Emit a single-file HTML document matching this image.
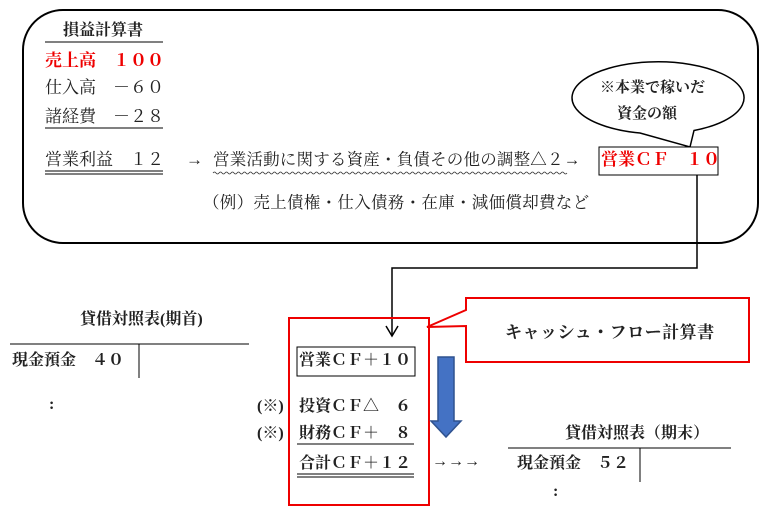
<!DOCTYPE html>
<html><head><meta charset="utf-8"><style>
body{margin:0;width:784px;height:517px;background:#fff;position:relative;overflow:hidden;font-family:"Liberation Serif","Noto Serif CJK SC","Noto Serif CJK JP",serif;font-size:16px;color:#222}
.t{position:absolute;white-space:nowrap;line-height:20px}
.b{font-weight:bold}
.r{color:#e00}
</style></head><body>
<svg width="784" height="517" style="position:absolute;left:0;top:0">
<rect x="23" y="10" width="735" height="233" rx="40" fill="none" stroke="#000" stroke-width="2"/>
<line x1="45" y1="42" x2="163" y2="42" stroke="#000"/>
<line x1="45" y1="128" x2="163" y2="128" stroke="#000"/>
<line x1="45" y1="171" x2="163" y2="171" stroke="#000"/>
<line x1="45" y1="174" x2="163" y2="174" stroke="#000"/>
<path d="M213,173 q1.5,-2 3,0 t3,0 t3,0 t3,0 t3,0 t3,0 t3,0 t3,0 t3,0 t3,0 t3,0 t3,0 t3,0 t3,0 t3,0 t3,0 t3,0 t3,0 t3,0 t3,0 t3,0 t3,0 t3,0 t3,0 t3,0 t3,0 t3,0 t3,0 t3,0 t3,0 t3,0 t3,0 t3,0 t3,0 t3,0 t3,0 t3,0 t3,0 t3,0 t3,0 t3,0 t3,0 t3,0 t3,0 t3,0 t3,0 t3,0 t3,0 t3,0 t3,0 t3,0 t3,0 t3,0 t3,0 t3,0 t3,0 t3,0 t3,0 t3,0 t3,0 t3,0 t3,0 t3,0 t3,0 t3,0 t3,0 t3,0 t3,0 t3,0 t3,0 t3,0 t3,0 t3,0 t3,0 t3,0 t3,0 t3,0 t3,0 t3,0 t3,0 t3,0 t3,0 t3,0 t3,0 t3,0 t3,0 t3,0 t3,0 t3,0 t3,0 t3,0 t3,0 t3,0 t3,0 t3,0 t3,0 t3,0 t3,0 t3,0 t3,0 t3,0 t3,0 t3,0 t3,0 t3,0 t3,0 t3,0 t3,0 t3,0 t3,0 t3,0 t3,0 t3,0 t3,0 t3,0 t3,0 t3,0 t3,0" fill="none" stroke="#333" stroke-width="0.8"/>
<path d="M640,133 A86,36 0 1 1 694,130.5 L690,147 Z" fill="#fff" stroke="#000" stroke-width="1.5"/>
<rect x="599" y="147" width="119" height="28" fill="#fff" stroke="#000"/>
<polyline points="697,175 697,268 392,268 392,336" fill="none" stroke="#000" stroke-width="1.5"/>
<polyline points="386,326 392,336 398,326" fill="none" stroke="#000" stroke-width="1.5"/>
<rect x="289" y="318" width="140" height="187" fill="none" stroke="#e00" stroke-width="2"/>
<path d="M466,298 L749,298 L749,362 L466,362 L466,326 L427,327 L466,310 Z" fill="#fff" stroke="#e00" stroke-width="2"/>
<rect x="297" y="347" width="118" height="29" fill="none" stroke="#000"/>
<path d="M438,357 L454,357 L454,421 L461,421 L446,437 L431,421 L438,421 Z" fill="#4472c4" stroke="#2f528f" stroke-width="1.5"/>
<line x1="297" y1="444" x2="414" y2="444" stroke="#000"/>
<line x1="297" y1="474" x2="414" y2="474" stroke="#000"/>
<line x1="297" y1="477" x2="414" y2="477" stroke="#000"/>
<line x1="10" y1="344" x2="249" y2="344" stroke="#000"/>
<line x1="139" y1="344" x2="139" y2="378" stroke="#000"/>
<line x1="508" y1="448" x2="731" y2="448" stroke="#000"/>
<line x1="640" y1="448" x2="640" y2="482" stroke="#000"/>
</svg>
<div class="t b" style="left:63px;top:21px">損益計算書</div>
<div class="t b r" style="left:45px;top:51px;font-size:17px">売上高　１００</div>
<div class="t" style="left:45px;top:78px;font-size:17px">仕入高　－６０</div>
<div class="t" style="left:45px;top:107px;font-size:17px">諸経費　－２８</div>
<div class="t" style="left:45px;top:150px;font-size:17px">営業利益　１２</div>
<div class="t" style="left:186px;top:150px;font-size:17px">→</div>
<div class="t" style="left:213px;top:150px;font-size:16.5px;letter-spacing:0.2px">営業活動に関する資産・負債その他の調整△２→</div>
<div class="t" style="left:203px;top:193px;font-size:16.5px;letter-spacing:0.3px">（例）売上債権・仕入債務・在庫・減価償却費など</div>
<div class="t b" style="left:600px;top:78px;font-size:15px">※本業で稼いだ</div>
<div class="t b" style="left:617px;top:104px;font-size:15px">資金の額</div>
<div class="t b r" style="left:601px;top:150px;font-size:17px">営業ＣＦ　１０</div>
<div class="t b" style="left:80px;top:310px">貸借対照表(期首)</div>
<div class="t b" style="left:12px;top:351px">現金預金　４０</div>
<div class="t b" style="left:49px;top:395px">:</div>
<div class="t b" style="left:505px;top:323px;font-size:17px;letter-spacing:0.5px">キャッシュ・フロー計算書</div>
<div class="t b" style="left:299px;top:351px">営業ＣＦ＋１０</div>
<div class="t b" style="left:257px;top:397px">(※)</div>
<div class="t b" style="left:299px;top:397px">投資ＣＦ△　６</div>
<div class="t b" style="left:257px;top:424px">(※)</div>
<div class="t b" style="left:299px;top:424px">財務ＣＦ＋　８</div>
<div class="t b" style="left:299px;top:454px">合計ＣＦ＋１２</div>
<div class="t" style="left:432px;top:452px">→→→</div>
<div class="t b" style="left:565px;top:424px">貸借対照表（期末）</div>
<div class="t b" style="left:517px;top:454px">現金預金　５２</div>
<div class="t b" style="left:553px;top:482px">:</div>
</body></html>
